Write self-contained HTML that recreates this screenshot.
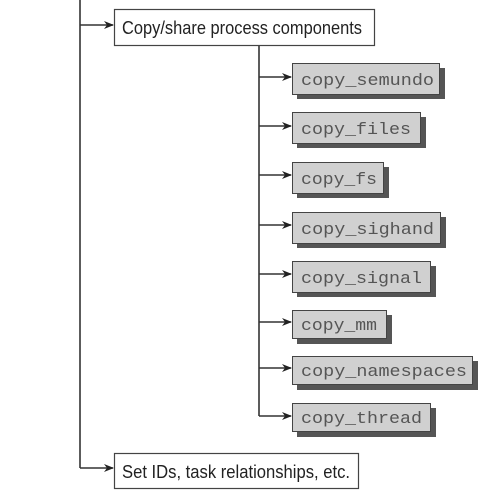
<!DOCTYPE html>
<html><head><meta charset="utf-8"><style>html,body{margin:0;padding:0;background:#fff}svg{display:block}</style></head>
<body>
<svg width="498" height="498" viewBox="0 0 498 498" xmlns="http://www.w3.org/2000/svg">
<defs><marker id="a" markerWidth="10" markerHeight="8" refX="9" refY="4" orient="auto" markerUnits="userSpaceOnUse"><path d="M0,0 L10,4 L0,8 L3,4 Z" fill="#222"/></marker></defs>
<g stroke="#333" stroke-width="1.6" fill="none">
<line x1="80" y1="0" x2="80" y2="468"/>
<line x1="80" y1="25" x2="113" y2="25" marker-end="url(#a)"/>
<line x1="80" y1="468" x2="113" y2="468" marker-end="url(#a)"/>
<line x1="259" y1="45" x2="259" y2="416"/>
<line x1="259" y1="77" x2="291" y2="77" marker-end="url(#a)"/>
<line x1="259" y1="126" x2="291" y2="126" marker-end="url(#a)"/>
<line x1="259" y1="175" x2="291" y2="175" marker-end="url(#a)"/>
<line x1="259" y1="225" x2="291" y2="225" marker-end="url(#a)"/>
<line x1="259" y1="274" x2="291" y2="274" marker-end="url(#a)"/>
<line x1="259" y1="322" x2="291" y2="322" marker-end="url(#a)"/>
<line x1="259" y1="368" x2="291" y2="368" marker-end="url(#a)"/>
<line x1="259" y1="416" x2="291" y2="416" marker-end="url(#a)"/>
</g>
<rect x="114.5" y="9.5" width="260" height="36" fill="#fff" stroke="#444" stroke-width="1.2"/>
<text x="122" y="34" font-family="Liberation Sans, sans-serif" font-size="18" fill="#222" textLength="240" lengthAdjust="spacingAndGlyphs">Copy/share process components</text>
<rect x="114.5" y="453.5" width="244" height="35" fill="#fff" stroke="#444" stroke-width="1.2"/>
<text x="122" y="478" font-family="Liberation Sans, sans-serif" font-size="18" fill="#222" textLength="228" lengthAdjust="spacingAndGlyphs">Set IDs, task relationships, etc.</text>
<g font-family="Liberation Mono, monospace" font-size="17" fill="#555">
<g transform="translate(0,63)"><rect x="297" y="5" width="148" height="31" fill="#555"/><rect x="292.5" y="0.5" width="147" height="31" fill="#d0d0d0" stroke="#444"/><text x="301" y="22" textLength="133" lengthAdjust="spacingAndGlyphs">copy_semundo</text></g>
<g transform="translate(0,112)"><rect x="297" y="5" width="129" height="31" fill="#555"/><rect x="292.5" y="0.5" width="128" height="31" fill="#d0d0d0" stroke="#444"/><text x="301" y="22" textLength="110" lengthAdjust="spacingAndGlyphs">copy_files</text></g>
<g transform="translate(0,162)"><rect x="297" y="5" width="92" height="31" fill="#555"/><rect x="292.5" y="0.5" width="91" height="31" fill="#d0d0d0" stroke="#444"/><text x="301" y="22" textLength="76" lengthAdjust="spacingAndGlyphs">copy_fs</text></g>
<g transform="translate(0,212)"><rect x="297" y="5" width="149" height="31" fill="#555"/><rect x="292.5" y="0.5" width="148" height="31" fill="#d0d0d0" stroke="#444"/><text x="301" y="22" textLength="133" lengthAdjust="spacingAndGlyphs">copy_sighand</text></g>
<g transform="translate(0,261)"><rect x="297" y="5" width="139" height="31" fill="#555"/><rect x="292.5" y="0.5" width="138" height="31" fill="#d0d0d0" stroke="#444"/><text x="301" y="22" textLength="121" lengthAdjust="spacingAndGlyphs">copy_signal</text></g>
<g transform="translate(0,310)"><rect x="297" y="5" width="95" height="29" fill="#555"/><rect x="292.5" y="0.5" width="94" height="28" fill="#d0d0d0" stroke="#444"/><text x="301" y="20" textLength="76" lengthAdjust="spacingAndGlyphs">copy_mm</text></g>
<g transform="translate(0,356)"><rect x="297" y="5" width="181" height="29" fill="#555"/><rect x="292.5" y="0.5" width="180" height="28" fill="#d0d0d0" stroke="#444"/><text x="301" y="20" textLength="166" lengthAdjust="spacingAndGlyphs">copy_namespaces</text></g>
<g transform="translate(0,403)"><rect x="297" y="5" width="139" height="29" fill="#555"/><rect x="292.5" y="0.5" width="138" height="28" fill="#d0d0d0" stroke="#444"/><text x="301" y="20" textLength="121" lengthAdjust="spacingAndGlyphs">copy_thread</text></g>
</g>
</svg>
</body></html>
